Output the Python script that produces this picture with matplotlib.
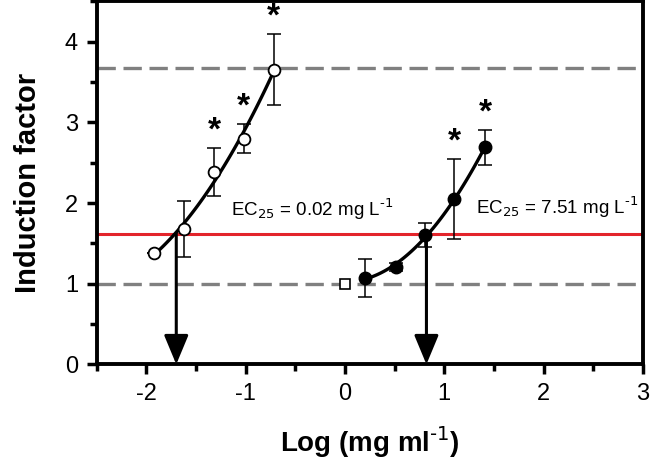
import numpy as np
import matplotlib.pyplot as plt
from matplotlib.ticker import MultipleLocator

plt.rcParams['font.family'] = ['Liberation Sans', 'DejaVu Sans']
plt.rcParams['axes.unicode_minus'] = False

# left series (open circles)
x_open = [-1.92, -1.62, -1.32, -1.02, -0.72]
y_open = [1.38, 1.68, 2.38, 2.80, 3.65]
err_open_lo = [0.0, 0.35, 0.29, 0.18, 0.43]
err_open_hi = [0.0, 0.34, 0.30, 0.18, 0.44]
star_open = [False, False, True, True, True]

# right series (filled circles)
x_fill = [0.20, 0.51, 0.81, 1.10, 1.41]
y_fill = [1.07, 1.21, 1.60, 2.05, 2.69]
err_fill_lo = [0.24, 0.05, 0.14, 0.50, 0.22]
err_fill_hi = [0.24, 0.05, 0.15, 0.50, 0.21]
star_fill = [False, False, False, True, True]

# control
x_ctrl = [0.0]
y_ctrl = [1.0]

base_level = 1.0
max_level = 3.67
ec25_level = 1.62
ec25_x = [-1.70, 0.82]
ec25_text = [r'EC$_{25}$ = 0.02 mg L$^{\text{-1}}$', r'EC$_{25}$ = 7.51 mg L$^{\text{-1}}$']
ec25_text_pos = [(-1.15, 1.92), (1.32, 1.95)]

fig = plt.figure(figsize=(6.5, 4.63), dpi=100)
ax = fig.add_axes([0.149, 0.213, 0.840, 0.784])

ax.set_xlim(-2.5, 3)
ax.set_ylim(0, 4.5)

ax.axhline(max_level, color='#808080', lw=2.4, dashes=(5.5, 2.3), zorder=1)
ax.axhline(base_level, color='#808080', lw=2.4, dashes=(5.5, 2.3), zorder=1)
ax.axhline(ec25_level, color='#e3242b', lw=2.2, zorder=1)

# fitted curves
for xs, ys in [(x_open, y_open), (x_fill, y_fill)]:
    c = np.polyfit(xs, ys, 2)
    xx = np.linspace(min(xs), max(xs), 100)
    ax.plot(xx, np.polyval(c, xx), color='black', lw=2.4, zorder=3)

ax.errorbar(x_open, y_open, yerr=[err_open_lo, err_open_hi], fmt='none',
            ecolor='black', elinewidth=1.1, capsize=5, capthick=1.1, zorder=2)
ax.errorbar(x_fill, y_fill, yerr=[err_fill_lo, err_fill_hi], fmt='none',
            ecolor='black', elinewidth=1.1, capsize=5, capthick=1.1, zorder=2)

ax.plot(x_open, y_open, 'o', mfc='white', mec='black', mew=1.3, ms=8.5, zorder=4)
ax.plot(x_fill, y_fill, 'o', mfc='black', mec='black', ms=9, zorder=4)
ax.plot(x_ctrl, y_ctrl, 's', mfc='white', mec='black', mew=1.2, ms=7.5, zorder=4)

# significance stars
for xs, ys, hi, st in [(x_open, y_open, err_open_hi, star_open),
                       (x_fill, y_fill, err_fill_hi, star_fill)]:
    for xi, yi, h, s in zip(xs, ys, hi, st):
        if s:
            ax.text(xi, yi + h + 0.02, '*', ha='center', va='bottom',
                    fontsize=24, fontweight='bold')

# arrows
for xa in ec25_x:
    ax.annotate('', xy=(xa, 0), xytext=(xa, ec25_level),
                arrowprops=dict(arrowstyle='-|>,head_width=0.75,head_length=1.8',
                                lw=2.2, color='black', shrinkA=0, shrinkB=0,
                                mutation_scale=10), zorder=3)

for t, (tx, ty) in zip(ec25_text, ec25_text_pos):
    ax.text(tx, ty, t, fontsize=13.5, ha='left', va='center')

ax.xaxis.set_major_locator(MultipleLocator(1))
ax.xaxis.set_minor_locator(MultipleLocator(0.5))
ax.yaxis.set_major_locator(MultipleLocator(1))
ax.yaxis.set_minor_locator(MultipleLocator(0.5))
ax.set_xticks([-2, -1, 0, 1, 2, 3])

for s in ax.spines.values():
    s.set_linewidth(2.8)
ax.tick_params(which='major', length=7.5, width=2.5, labelsize=17, pad=6)
ax.tick_params(which='minor', length=5, width=2.5)

ax.set_xlabel(r'Log (mg ml$^{\mathbf{\text{-1}}}$)', fontsize=20, fontweight='bold', labelpad=14)
ax.set_ylabel('Induction factor', fontsize=21, fontweight='bold')
ax.yaxis.set_label_coords(-0.10, 0.5)

fig.savefig('out.png', dpi=100)
